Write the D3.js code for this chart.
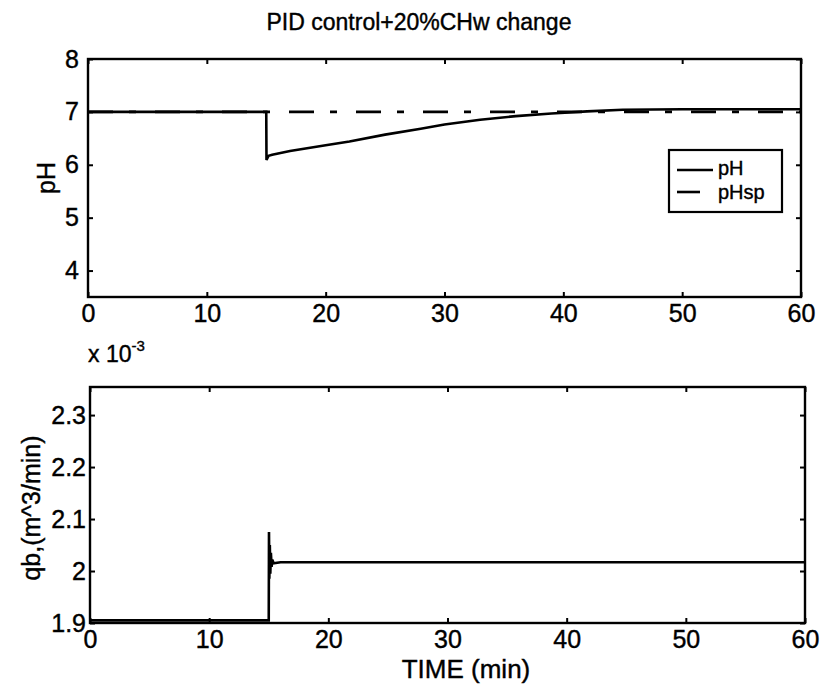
<!DOCTYPE html>
<html>
<head>
<meta charset="utf-8">
<title>PID control</title>
<script src="https://d3js.org/d3.v7.min.js"></script>
<style>
  body { margin: 0; background: #fff; }
  svg text { font-family: "Liberation Sans", Arial, sans-serif; fill: #000; stroke: #000; stroke-width: 0.4; }
  .axis path, .axis line { stroke: #000; stroke-width: 2; }
  .axis text { font-size: 25px; }
</style>
</head>
<body>
<svg id="fig" width="824" height="684"></svg>
<script>
// x ticks (min)
var timeTicks = [0, 10, 20, 30, 40, 50, 60];
var phTicks = [4, 5, 6, 7, 8];
var qbTicks = [1.9, 2.0, 2.1, 2.2, 2.3];

// pH response
var phTime = [0, 15, 15.02, 15.2, 15.5, 17, 20, 22, 25, 28, 30, 33, 36, 39, 42, 45, 50, 55, 60];
var phVal  = [7, 7, 6.09, 6.17, 6.19, 6.26, 6.37, 6.44, 6.57, 6.68, 6.76, 6.85, 6.92, 6.97, 7.01, 7.04, 7.05, 7.05, 7.05];

// set point
var spTime = [0, 60];
var spVal = [7, 7];

// qb, x 10^-3 m^3/min
var qbTime = [0, 15, 15.02, 15.05, 15.09, 15.13, 15.18, 15.24, 15.3, 15.4, 16, 60];
var qbVal  = [1.905, 1.905, 2.075, 1.985, 2.05, 1.995, 2.035, 2.008, 2.022, 2.015, 2.017, 2.017];

var svg = d3.select("#fig");

function panel(box, yDomain, yTicks, yFmt, ypad) {
  var x = d3.scaleLinear().domain([0, 60]).range([box.l, box.r]);
  var y = d3.scaleLinear().domain(yDomain).range([box.b, box.t]);
  var g = svg.append("g");

  g.append("g").attr("class", "axis")
    .attr("transform", "translate(0," + box.b + ")")
    .call(d3.axisBottom(x).tickValues(timeTicks).tickSize(-5).tickPadding(7).tickSizeOuter(0));
  g.append("g").attr("class", "axis")
    .attr("transform", "translate(0," + box.t + ")")
    .call(d3.axisTop(x).tickValues(timeTicks).tickSize(-5).tickFormat("").tickSizeOuter(0));
  g.append("g").attr("class", "axis")
    .attr("transform", "translate(" + box.l + ",0)")
    .call(d3.axisLeft(y).tickValues(yTicks).tickSize(-5).tickPadding(ypad).tickFormat(yFmt).tickSizeOuter(0));
  g.append("g").attr("class", "axis")
    .attr("transform", "translate(" + box.r + ",0)")
    .call(d3.axisRight(y).tickValues(yTicks).tickSize(-5).tickFormat("").tickSizeOuter(0));

  g.selectAll(".axis .domain").remove();
  g.append("rect")
    .attr("x", box.l).attr("y", box.t)
    .attr("width", box.r - box.l).attr("height", box.b - box.t)
    .attr("fill", "none").attr("stroke", "#000").attr("stroke-width", 2.4);

  return { x: x, y: y, g: g };
}

// top panel: pH
var p1 = panel({ l: 88, r: 801, t: 59, b: 297 }, [3.5, 8], phTicks, d3.format("d"), 9);
var line1 = d3.line().x(function (d) { return p1.x(d[0]); }).y(function (d) { return p1.y(d[1]); });

p1.g.append("path")
  .datum(d3.zip(phTime, phVal))
  .attr("d", line1)
  .attr("fill", "none").attr("stroke", "#000").attr("stroke-width", 2.6);

p1.g.append("path")
  .datum(d3.zip(spTime, spVal))
  .attr("d", line1)
  .attr("fill", "none").attr("stroke", "#000").attr("stroke-width", 2.6)
  .attr("stroke-dasharray", "25,16,7,19");

// legend
var lg = p1.g.append("g");
lg.append("rect").attr("x", 669).attr("y", 150).attr("width", 113).attr("height", 62)
  .attr("fill", "#fff").attr("stroke", "#000").attr("stroke-width", 2.2);
lg.append("line").attr("x1", 677).attr("x2", 713).attr("y1", 170).attr("y2", 170)
  .attr("stroke", "#000").attr("stroke-width", 2.6);
lg.append("line").attr("x1", 677).attr("x2", 700).attr("y1", 192).attr("y2", 192)
  .attr("stroke", "#000").attr("stroke-width", 2.6);
lg.append("text").attr("x", 718).attr("y", 175).style("font-size", "20px").text("pH");
lg.append("text").attr("x", 718).attr("y", 199).style("font-size", "20px").text("pHsp");

// bottom panel: qb
var p2 = panel({ l: 90, r: 805, t: 387, b: 623 }, [1.9, 2.354], qbTicks,
  function (d) { return d === 2 ? "2" : d3.format(".1f")(d); }, 4);
var line2 = d3.line().x(function (d) { return p2.x(d[0]); }).y(function (d) { return p2.y(d[1]); });

p2.g.append("path")
  .datum(d3.zip(qbTime, qbVal))
  .attr("d", line2)
  .attr("fill", "none").attr("stroke", "#000").attr("stroke-width", 2.6);

// texts
svg.append("text").attr("x", 419).attr("y", 30).attr("text-anchor", "middle")
  .style("font-size", "23px").text("PID control+20%CHw change");

svg.append("text").attr("transform", "translate(55,178) rotate(-90)")
  .attr("text-anchor", "middle").style("font-size", "25px").text("pH");

svg.append("text").attr("transform", "translate(40,508) rotate(-90)")
  .attr("text-anchor", "middle").style("font-size", "25px").text("qb,(m^3/min)");

svg.append("text").attr("x", 466).attr("y", 678).attr("text-anchor", "middle")
  .style("font-size", "26px").text("TIME (min)");

var ex = svg.append("text").attr("x", 88).attr("y", 362).style("font-size", "23px");
ex.append("tspan").text("x 10");
ex.append("tspan").attr("dy", -11).style("font-size", "15px").text("-3");
</script>
</body>
</html>
